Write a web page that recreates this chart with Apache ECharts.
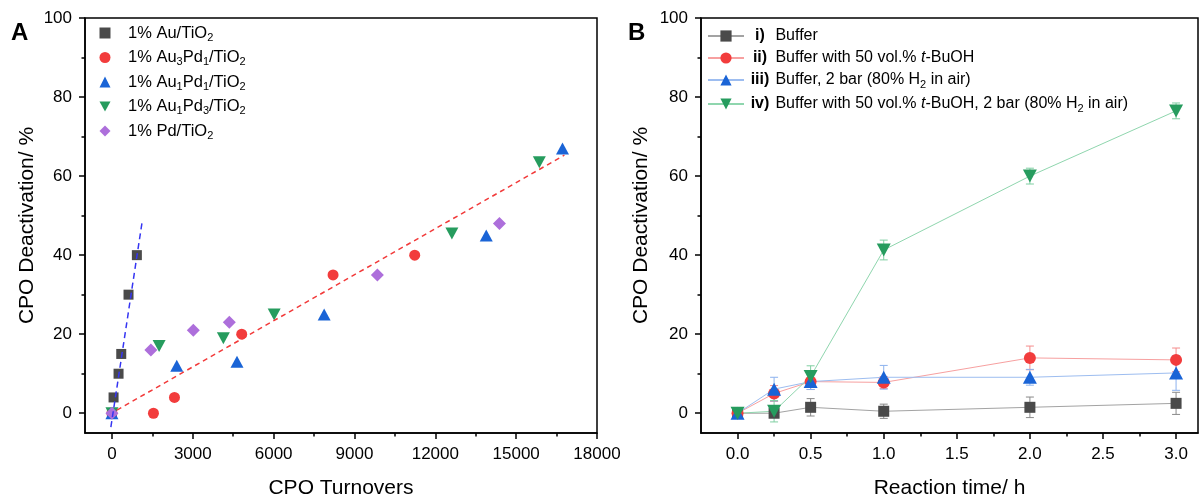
<!DOCTYPE html>
<html>
<head>
<meta charset="utf-8">
<script src="https://cdn.jsdelivr.net/npm/echarts@6/dist/echarts.min.js"></script>
<style>
  html, body { margin: 0; padding: 0; background: #fff; }
  #main { width: 1202px; height: 496px; }
</style>
</head>
<body>
<div id="main"></div>
<script>
// ---- panel A : deactivation vs turnovers ----
var auTiO2    = [[0,0],[60,4],[245,10],[345,15],[615,30],[925,40]];
var au3pd1    = [[0,0],[1540,0],[2320,4],[4815,20],[8205,35],[11235,40]];
var au1pd1    = [[0,0],[2405,12],[4640,13],[7875,25],[13890,45],[16720,67]];
var au1pd3    = [[0,0],[1750,17],[4135,19],[6020,25],[12615,45.5],[15860,63.5]];
var pdTiO2    = [[0,0],[1445,16],[3020,21],[4355,23],[9850,35],[14380,48]];
var fitAu     = [[-40,-3.5],[1120,48.4]];
var fitAlloy  = [[185,0.8],[16790,65.3]];
var turnTicks = [0,3000,6000,9000,12000,15000,18000];
var turnMinor = [1500,4500,7500,10500,13500,16500];

// ---- panel B : deactivation vs time ----
var times   = [0,0.25,0.5,1,2,3];
var bufI    = [0,0,1.5,0.5,1.5,2.5];
var errI    = [0.5,1,2.2,1.8,2.6,2.8];
var bufII   = [0,5,8,7.8,14,13.5];
var errII   = [0.5,2,2,1.5,3,3];
var bufIII  = [0,6.1,8,9.1,9.1,10.2];
var errIII  = [0.5,3,2,3,2,4.4];
var bufIV   = [0,0.5,9.3,41.3,60,76.5];
var errIV   = [0.5,2.7,2.7,2.5,2,2];
var timeTicks = [0,0.5,1,1.5,2,2.5,3];
var timeMinor = [0.25,0.75,1.25,1.75,2.25,2.75];

var yTicks = [0,20,40,60,80,100];
var yMinor = [10,30,50,70,90];

var FONT = "'Liberation Sans', Arial, sans-serif";
var DOWN = 'path://M0,0L10,0L5,9Z';

function pairs(xs, ys) { return xs.map(function (x, i) { return [x, ys[i]]; }); }
function triples(xs, ys, es) { return xs.map(function (x, i) { return [x, ys[i], es[i]]; }); }

function errRender(color) {
  return function (params, api) {
    var x = api.value(0), y = api.value(1), e = api.value(2);
    var hi = api.coord([x, y + e]), lo = api.coord([x, y - e]);
    var w = 4, st = { stroke: color, lineWidth: 1 };
    return { type: 'group', children: [
      { type: 'line', shape: { x1: hi[0], y1: hi[1], x2: lo[0], y2: lo[1] }, style: st },
      { type: 'line', shape: { x1: hi[0] - w, y1: hi[1], x2: hi[0] + w, y2: hi[1] }, style: st },
      { type: 'line', shape: { x1: lo[0] - w, y1: lo[1], x2: lo[0] + w, y2: lo[1] }, style: st }
    ]};
  };
}

function mainX(grid, min, max, ticks, name, fmt) {
  return {
    type: 'value', gridIndex: grid, position: 'bottom', min: min, max: max,
    name: name, nameLocation: 'middle', nameGap: 45,
    nameTextStyle: { fontFamily: FONT, fontSize: 21, color: '#000' },
    axisLine: { onZero: false, lineStyle: { color: '#000', width: 1.5 } },
    axisTick: { inside: false, length: 6, customValues: ticks, lineStyle: { color: '#000', width: 1.5 } },
    axisLabel: { customValues: ticks, margin: 13, fontFamily: FONT, fontSize: 17, color: '#000', formatter: fmt },
    splitLine: { show: false }
  };
}
function minorX(grid, min, max, ticks) {
  return {
    type: 'value', gridIndex: grid, position: 'bottom', min: min, max: max,
    axisLine: { show: false, onZero: false },
    axisTick: { inside: false, length: 3.5, customValues: ticks, lineStyle: { color: '#000', width: 1.5 } },
    axisLabel: { show: false }, splitLine: { show: false }
  };
}
function mainY(grid, gap) {
  return {
    type: 'value', gridIndex: grid, position: 'left', min: -5, max: 100,
    name: 'CPO Deactivation/ %', nameLocation: 'middle', nameGap: gap,
    nameTextStyle: { fontFamily: FONT, fontSize: 21, color: '#000' },
    axisLine: { onZero: false, lineStyle: { color: '#000', width: 1.5 } },
    axisTick: { inside: false, length: 6, customValues: yTicks, lineStyle: { color: '#000', width: 1.5 } },
    axisLabel: { customValues: yTicks, margin: 13, fontFamily: FONT, fontSize: 17, color: '#000' },
    splitLine: { show: false }
  };
}
function minorY(grid) {
  return {
    type: 'value', gridIndex: grid, position: 'left', min: -5, max: 100,
    axisLine: { show: false, onZero: false },
    axisTick: { inside: false, length: 3.5, customValues: yMinor, lineStyle: { color: '#000', width: 1.5 } },
    axisLabel: { show: false }, splitLine: { show: false }
  };
}

function richSet(size) {
  return {
    g:  { width: 12.5, lineHeight: 20 },
    n:  { fontFamily: FONT, fontSize: size, color: '#000', lineHeight: 20 },
    s:  { fontFamily: FONT, fontSize: 11, color: '#000', lineHeight: 10, verticalAlign: 'bottom' },
    it: { fontFamily: FONT, fontSize: size, color: '#000', lineHeight: 20, fontStyle: 'italic' },
    b:  { fontFamily: FONT, fontSize: size, color: '#000', lineHeight: 20, fontWeight: 'bold', width: 22, align: 'right' }
  };
}

var labelsA = {
  'Au':     '{g| }{n|1% Au/TiO}{s|2}',
  'Au3Pd1': '{g| }{n|1% Au}{s|3}{n|Pd}{s|1}{n|/TiO}{s|2}',
  'Au1Pd1': '{g| }{n|1% Au}{s|1}{n|Pd}{s|1}{n|/TiO}{s|2}',
  'Au1Pd3': '{g| }{n|1% Au}{s|1}{n|Pd}{s|3}{n|/TiO}{s|2}',
  'Pd':     '{g| }{n|1% Pd/TiO}{s|2}'
};
var labelsB = {
  'i':   '{b|i)}{n| Buffer}',
  'ii':  '{b|ii)}{n| Buffer with 50 vol.% }{it|t}{n|-BuOH}',
  'iii': '{b|iii)}{n| Buffer, 2 bar (80% H}{s|2}{n| in air)}',
  'iv':  '{b|iv)}{n| Buffer with 50 vol.% }{it|t}{n|-BuOH, 2 bar (80% H}{s|2}{n| in air)}'
};

var chart = echarts.init(document.getElementById('main'), null, { renderer: 'canvas' });
var option = {
  animation: false,
  backgroundColor: '#fff',
  textStyle: { fontFamily: FONT },
  graphic: [
    { type: 'text', left: 11, top: 21, style: { text: 'A', font: 'bold 24px ' + FONT, fill: '#000' } },
    { type: 'text', left: 628, top: 21, style: { text: 'B', font: 'bold 24px ' + FONT, fill: '#000' } }
  ],
  grid: [
    { left: 85, right: 605, top: 18, bottom: 63, outerBoundsMode: 'none', containLabel: false,
      show: true, borderColor: '#000', borderWidth: 1.5 },
    { left: 701, right: 4, top: 18, bottom: 63, outerBoundsMode: 'none', containLabel: false,
      show: true, borderColor: '#000', borderWidth: 1.5 }
  ],
  legend: [
    { data: ['Au','Au3Pd1','Au1Pd1','Au1Pd3','Pd'], orient: 'vertical', left: 99.5, top: 24.5, padding: 0,
      itemWidth: 11, itemHeight: 11, itemGap: 6,
      formatter: function (n) { return labelsA[n]; },
      textStyle: { rich: richSet(16.5) } },
    { data: ['i','ii','iii','iv'], orient: 'vertical', left: 707, top: 28, padding: 0,
      itemWidth: 36, itemHeight: 14, itemGap: 6,
      formatter: function (n) { return labelsB[n]; },
      textStyle: { rich: richSet(16) } }
  ],
  xAxis: [
    mainX(0, -1000, 18000, turnTicks, 'CPO Turnovers', function (v) { return String(v); }),
    minorX(0, -1000, 18000, turnMinor),
    mainX(1, -0.25, 3.15, timeTicks, 'Reaction time/ h', function (v) { return v.toFixed(1); }),
    minorX(1, -0.25, 3.15, timeMinor)
  ],
  yAxis: [ mainY(0, 47), minorY(0), mainY(1, 49), minorY(1) ],
  series: [
    { type: 'line', data: fitAu, showSymbol: false, symbol: 'none', silent: true,
      lineStyle: { color: '#3535f2', width: 1.5, type: [6, 4] } },
    { type: 'line', data: fitAlloy, showSymbol: false, symbol: 'none', silent: true,
      lineStyle: { color: '#f23a3a', width: 1.5, type: [5, 4] } },
    { name: 'Au', type: 'scatter', data: auTiO2, symbol: 'rect', symbolSize: 10, itemStyle: { color: '#4a4a4a', opacity: 1 } },
    { name: 'Au3Pd1', type: 'scatter', data: au3pd1, symbol: 'circle', symbolSize: 11, itemStyle: { color: '#f23c3c', opacity: 1 } },
    { name: 'Au1Pd1', type: 'scatter', data: au1pd1, symbol: 'triangle', symbolSize: [13, 12], itemStyle: { color: '#1a64d6', opacity: 1 } },
    { name: 'Au1Pd3', type: 'scatter', data: au1pd3, symbol: DOWN, symbolSize: [13, 12], itemStyle: { color: '#269c5e', opacity: 1 } },
    { name: 'Pd', type: 'scatter', data: pdTiO2, symbol: 'diamond', symbolSize: 13, itemStyle: { color: '#ad6fdb', opacity: 1 } },

    { name: 'e1', type: 'custom', xAxisIndex: 2, yAxisIndex: 2, data: triples(times, bufI, errI), encode: { x: 0, y: 1 }, renderItem: errRender('#8a8a8a'), z: 1 },
    { name: 'e2', type: 'custom', xAxisIndex: 2, yAxisIndex: 2, data: triples(times, bufII, errII), encode: { x: 0, y: 1 }, renderItem: errRender('#f58c8c'), z: 1 },
    { name: 'e3', type: 'custom', xAxisIndex: 2, yAxisIndex: 2, data: triples(times, bufIII, errIII), encode: { x: 0, y: 1 }, renderItem: errRender('#8cb2ee'), z: 1 },
    { name: 'e4', type: 'custom', xAxisIndex: 2, yAxisIndex: 2, data: triples(times, bufIV, errIV), encode: { x: 0, y: 1 }, renderItem: errRender('#7fcfa2'), z: 1 },

    { name: 'i', type: 'line', xAxisIndex: 2, yAxisIndex: 2, data: pairs(times, bufI), symbol: 'rect', symbolSize: 11,
      lineStyle: { color: '#a3a3a3', width: 1 }, itemStyle: { color: '#4a4a4a' }, z: 3 },
    { name: 'ii', type: 'line', xAxisIndex: 2, yAxisIndex: 2, data: pairs(times, bufII), symbol: 'circle', symbolSize: 12,
      lineStyle: { color: '#f7a0a0', width: 1 }, itemStyle: { color: '#f23c3c' }, z: 3 },
    { name: 'iii', type: 'line', xAxisIndex: 2, yAxisIndex: 2, data: pairs(times, bufIII), symbol: 'triangle', symbolSize: [14, 13],
      lineStyle: { color: '#9dbdf0', width: 1 }, itemStyle: { color: '#1a64d6' }, z: 3 },
    { name: 'iv', type: 'line', xAxisIndex: 2, yAxisIndex: 2, data: pairs(times, bufIV), symbol: DOWN, symbolSize: [14, 13],
      lineStyle: { color: '#8fd6ae', width: 1 }, itemStyle: { color: '#269c5e' }, z: 3 }
  ]
};
chart.setOption(option);
</script>
</body>
</html>
